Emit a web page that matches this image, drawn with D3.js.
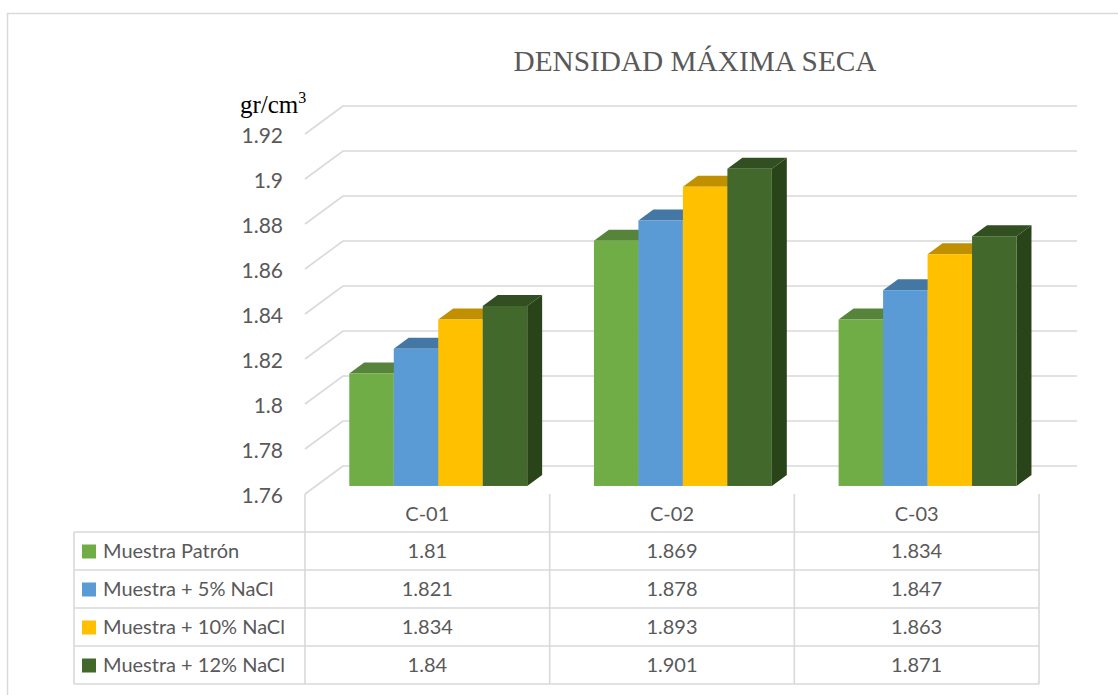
<!DOCTYPE html>
<html><head><meta charset="utf-8">
<script src="https://cdn.jsdelivr.net/npm/d3@7"></script>
<style>body{margin:0;background:#fff}svg{display:block}</style>
</head><body>
<svg id="c" width="1118" height="695"></svg>
<script>
const categories = ["C-01", "C-02", "C-03"];
const seriesNames = ["Muestra Patrón", "Muestra + 5% NaCl", "Muestra + 10% NaCl", "Muestra + 12% NaCl"];
const muestraPatron = [1.81, 1.869, 1.834];
const nacl5 = [1.821, 1.878, 1.847];
const nacl10 = [1.834, 1.893, 1.863];
const nacl12 = [1.84, 1.901, 1.871];
const tableLabels = [["1.81","1.869","1.834"],["1.821","1.878","1.847"],["1.834","1.893","1.863"],["1.84","1.901","1.871"]];
const yTicks = [1.76, 1.78, 1.8, 1.82, 1.84, 1.86, 1.88, 1.9, 1.92];
const yTickLabels = ["1.76","1.78","1.8","1.82","1.84","1.86","1.88","1.9","1.92"];
const title = "DENSIDAD MÁXIMA SECA";

const seriesValues = [muestraPatron, nacl5, nacl10, nacl12];
const frontColors = ["#70ad47", "#5b9bd5", "#ffc000", "#43682b"];
const topColors   = ["#56843a", "#4477a3", "#c09000", "#314f20"];
const sideColors  = ["#4b7630", "#3e6c96", "#b08400", "#2a4419"];

const svg = d3.select("#c");
const grid = "#d9d9d9", txt = "#595959";
const sans = "Lato, 'Open Sans', sans-serif";

// outer frame
svg.append("rect").attr("x",7.5).attr("y",13.5).attr("width",1130).attr("height",700)
  .attr("fill","none").attr("stroke",grid).attr("stroke-width",1.5);

// 3D geometry
const DX = 38, DY = 28;
const x = d3.scaleBand().domain(categories).range([305, 1039]).paddingInner(0).paddingOuter(0);
const yF = d3.scaleLinear().domain([1.76, 1.92]).range([494, 134]);
const P = (xf, v, d) => [xf + d*DX, yF(v) - d*DY];
const bw = x.bandwidth() / 5.5;
const xs = d3.scaleBand().domain(d3.range(4)).range([0, 4*bw]);
const d1 = 0.287, d2 = 0.68;

// gridlines: left wall diagonal + back wall horizontal
const gG = svg.append("g").attr("fill","none").attr("stroke",grid).attr("stroke-width",1.6);
yTicks.forEach(t => {
  const a = P(305, t, 0), b = P(305, t, 1), c = P(1039, t, 1);
  gG.append("path").attr("d", d3.line()([a, b, c]));
});

// y labels
svg.append("g").selectAll("text").data(yTicks).join("text")
  .attr("x", 283).attr("y", d => yF(d) + 1).attr("dy","0.36em")
  .attr("text-anchor","end").attr("fill",txt).attr("font-family",sans).attr("font-size",21)
  .text((d,i) => yTickLabels[i]);

// unit label
const u = svg.append("text").attr("x",240).attr("y",113).attr("fill","#000")
  .attr("font-family","'Liberation Serif', 'Times New Roman', serif").attr("font-size",25);
u.append("tspan").text("gr/cm");
u.append("tspan").attr("dy",-10).attr("font-size",16).text("3");

// title
svg.append("text").attr("x",695).attr("y",71).attr("text-anchor","middle").attr("fill",txt)
  .attr("font-family","'Liberation Serif', 'Times New Roman', serif").attr("font-size",29.3).text(title);

// bars
const bG = svg.append("g");
categories.forEach((c, ci) => {
  const off = x(c) + (x.bandwidth() - 4*bw)/2;
  seriesValues.forEach((vals, si) => {
    const v = vals[ci];
    const xl = off + xs(si), xr = xl + bw;
    const base = 1.76;
    const g = bG.append("g");
    g.append("path").attr("fill", sideColors[si])
      .attr("d", d3.line()([P(xr,base,d1), P(xr,v,d1), P(xr,v,d2), P(xr,base,d2)]) + "Z");
    g.append("path").attr("fill", topColors[si])
      .attr("d", d3.line()([P(xl,v,d1), P(xr,v,d1), P(xr,v,d2), P(xl,v,d2)]) + "Z");
    const f0 = P(xl, v, d1), f1 = P(xr, base, d1);
    g.append("rect").attr("x", f0[0]).attr("y", f0[1]).attr("width", f1[0]-f0[0]).attr("height", f1[1]-f0[1])
      .attr("fill", frontColors[si]);
  });
});

// data table
const tG = svg.append("g").attr("stroke",grid).attr("stroke-width",1.6).attr("fill","none");
const rowTop = 532, rowH = 38, headTop = 494;
const colEdges = [305, ...categories.map(c => x(c) + x.bandwidth())];
for (let r = 0; r <= 4; r++) {
  const yy = rowTop + r*rowH;
  tG.append("line").attr("x1",74).attr("x2",1039).attr("y1",yy).attr("y2",yy);
}
tG.append("line").attr("x1",74).attr("x2",74).attr("y1",rowTop).attr("y2",rowTop+4*rowH);
colEdges.forEach(xx => tG.append("line").attr("x1",xx).attr("x2",xx).attr("y1",headTop).attr("y2",rowTop+4*rowH));

// header text
svg.append("g").selectAll("text").data(categories).join("text")
  .attr("x", d => x(d) + x.bandwidth()/2).attr("y", headTop + rowH/2 + 1).attr("dy","0.36em")
  .attr("text-anchor","middle").attr("fill",txt).attr("font-family",sans).attr("font-size",20).text(d => d);

// rows
seriesNames.forEach((name, si) => {
  const cy = rowTop + si*rowH + rowH/2;
  svg.append("rect").attr("x",82).attr("y",cy-6.5).attr("width",14).attr("height",14).attr("fill",frontColors[si]);
  svg.append("text").attr("x",103).attr("y",cy).attr("dy","0.36em").attr("fill",txt)
    .attr("font-family",sans).attr("font-size",20).text(name);
  categories.forEach((c, ci) => {
    svg.append("text").attr("x", x(c) + x.bandwidth()/2).attr("y", cy).attr("dy","0.36em")
      .attr("text-anchor","middle").attr("fill",txt).attr("font-family",sans).attr("font-size",20)
      .text(tableLabels[si][ci]);
  });
});
</script>
</body></html>
